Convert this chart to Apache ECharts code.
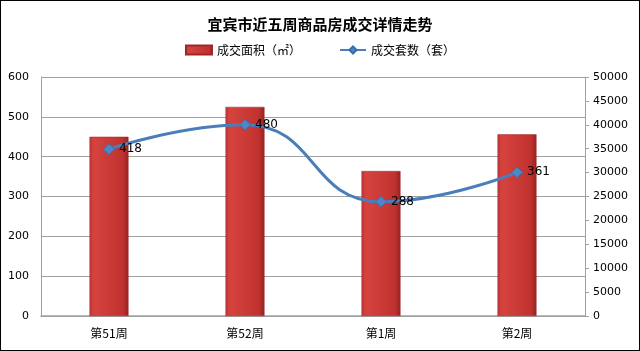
<!DOCTYPE html>
<html><head><meta charset="utf-8">
<script src="https://cdn.jsdelivr.net/npm/echarts@6/dist/echarts.min.js"></script>
<style>html,body{margin:0;padding:0;background:#fff}#c{width:638px;height:349px;border:1px solid #000}</style>
</head><body><div id="c"></div>
<script>
var categories = ['第51周', '第52周', '第1周', '第2周'];
var areaValues = [450, 525, 364, 456];
var countValues = [34900, 40000, 23900, 30050];
var countLabels = ['418', '480', '288', '361'];
var leftTicks = [0, 100, 200, 300, 400, 500, 600];
var rightTicks = [0, 5000, 10000, 15000, 20000, 25000, 30000, 35000, 40000, 45000, 50000];

var chart = echarts.init(document.getElementById('c'));
var font = '"Noto Sans CJK SC", "DejaVu Sans", sans-serif';
chart.setOption({
  animation: false,
  textStyle: {fontFamily: font},
  title: {text: '宜宾市近五周商品房成交详情走势', left: 'center', top: 11,
    textStyle: {fontSize: 15, fontWeight: 'bold', color: '#000', fontFamily: font}},
  legend: {top: 38, left: 'center', itemGap: 38, itemWidth: 26, itemHeight: 9,
    textStyle: {fontSize: 12, color: '#000', fontFamily: font},
    data: [{name: '成交面积（㎡）', icon: 'rect'}, {name: '成交套数（套）'}]},
  grid: {left: 40, right: 54, top: 76, bottom: 34, containLabel: false},
  xAxis: {type: 'category', data: categories,
    axisLine: {lineStyle: {color: '#a0a0a0', width: 1.5}}, axisTick: {show: false},
    axisLabel: {fontSize: 12, color: '#000', margin: 11, fontFamily: font}},
  yAxis: [{type: 'value', min: 0, max: 600, interval: 100,
    axisLine: {show: true, lineStyle: {color: '#a0a0a0'}}, axisTick: {show: false},
    splitLine: {lineStyle: {color: '#a0a0a0', width: 1}},
    axisLabel: {fontSize: 11, color: '#000', margin: 12, fontFamily: 'DejaVu Sans',
      formatter: function (v) { return leftTicks.indexOf(v) >= 0 ? String(v) : ''; }}},
   {type: 'value', min: 0, max: 50000, interval: 5000, position: 'right',
    axisLine: {show: true, lineStyle: {color: '#a0a0a0'}},
    axisTick: {show: true, length: 4, lineStyle: {color: '#a0a0a0'}},
    splitLine: {show: false},
    axisLabel: {fontSize: 11, color: '#000', margin: 8, fontFamily: 'DejaVu Sans',
      formatter: function (v) { return rightTicks.indexOf(v) >= 0 ? String(v) : ''; }}}],
  series: [{name: '成交面积（㎡）', type: 'bar', data: areaValues, barWidth: 39, yAxisIndex: 0,
    itemStyle: {color: new echarts.graphic.LinearGradient(0, 0, 1, 0, [
      {offset: 0, color: '#c03633'}, {offset: 0.12, color: '#d6433f'},
      {offset: 0.85, color: '#c0322f'}, {offset: 1, color: '#962322'}]),
      borderColor: '#9e2826', borderWidth: 0.5}},
   {name: '成交套数（套）', type: 'line', yAxisIndex: 1, smooth: 0.5,
    data: countValues, symbol: 'diamond', symbolSize: 11,
    lineStyle: {color: '#4a7ebb', width: 3},
    itemStyle: {color: '#4f86c6', borderColor: '#3a6ea8', borderWidth: 1},
    label: {show: true, position: 'right', distance: 4, fontSize: 12, color: '#000',
      fontFamily: 'DejaVu Sans', formatter: function (p) { return countLabels[p.dataIndex]; }}}]
});
</script></body></html>
